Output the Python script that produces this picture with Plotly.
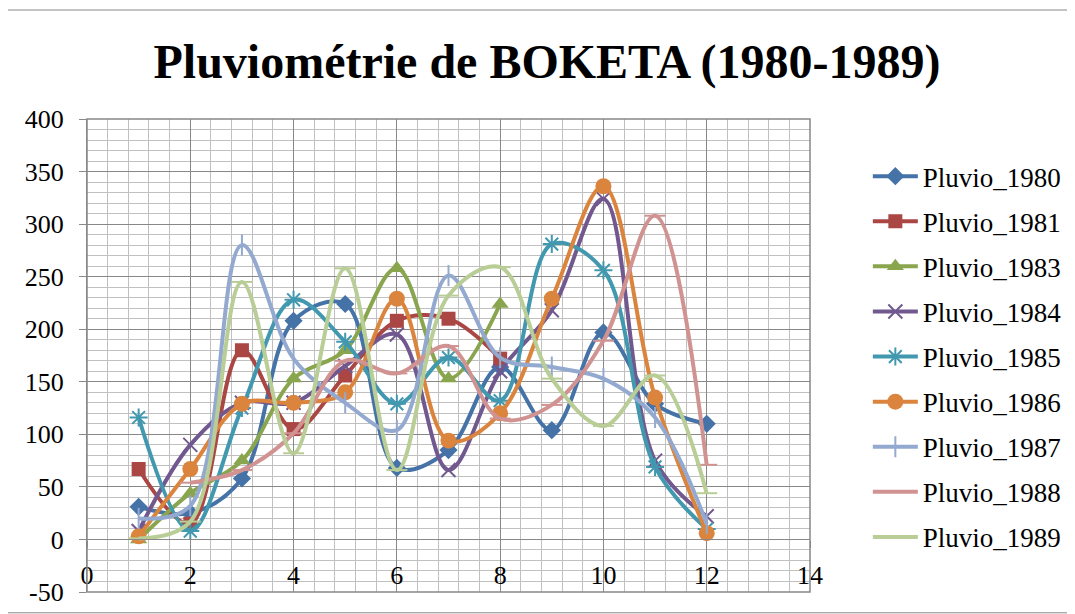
import plotly.graph_objects as go

# Mois (1..12) et pluviométrie
mois = [1, 2, 3, 4, 5, 6, 7, 8, 9, 10, 11, 12]

pluvio_1980 = [31, 25, 58, 208, 224, 68, 85, 164, 104, 197, 129, 110]
pluvio_1981 = [67, 15, 180, 105, 156, 208, 210, 172, None, None, None, None]
pluvio_1983 = [0, 44, 75, 153, 180, 258, 153, 224, None, None, None, None]
pluvio_1984 = [8, 90, 130, 130, 165, 195, 66, 160, 218, 324, 75, 22]
pluvio_1985 = [116, 8, 125, 228, 188, 129, 173, 132, 281, 256, 69, 10]
pluvio_1986 = [3, 67, 129, 130, 140, 229, 94, 120, 229, 336, 135, 6]
pluvio_1987 = [20, 32, 280, 172, 130, 104, 251, 173, 164, 153, 116, 15]
pluvio_1988 = [None, 54, 66, 101, 170, 158, 184, 115, 128, 189, 308, 71]
pluvio_1989 = [1, 17, 245, 82, 258, 66, 232, 259, 153, 108, 156, 44]

y_ticks = [-50, 0, 50, 100, 150, 200, 250, 300, 350, 400]

SERIES = [
    ("Pluvio_1980", pluvio_1980, "#4572A7", "diamond", 14),
    ("Pluvio_1981", pluvio_1981, "#AA4643", "square", 14),
    ("Pluvio_1983", pluvio_1983, "#89A54E", "triangle-up", 15),
    ("Pluvio_1984", pluvio_1984, "#71588F", "x-thin", 14),
    ("Pluvio_1985", pluvio_1985, "#4198AF", "asterisk", 15),
    ("Pluvio_1986", pluvio_1986, "#DB843D", "circle", 16),
    ("Pluvio_1987", pluvio_1987, "#93A9CF", "line-ns", 15),
    ("Pluvio_1988", pluvio_1988, "#D19392", "line-ew", 15),
    ("Pluvio_1989", pluvio_1989, "#B9CD96", "line-ew", 15),
]

FONT = "Liberation Serif"
MAJOR = "#888888"
MINOR = "#c0c0c0"

fig = go.Figure()
for name, vals, color, symbol, size in SERIES:
    open_sym = symbol in ("x-thin", "asterisk", "line-ns", "line-ew")
    fig.add_trace(go.Scatter(
        x=mois, y=vals,
        name=name,
        legendgroup=name,
        mode="lines+markers",
        line=dict(color=color, width=4, shape="spline", smoothing=1.0),
        marker=dict(
            symbol=symbol, size=size, color=color,
            line=dict(color=color, width=2 if open_sym else 0),
        ),
    ))

# la page HTML ajoute 8 px de marge autour de la figure
fig.update_layout(
    width=1075, height=614,
    paper_bgcolor="white",
    plot_bgcolor="white",
    font=dict(family=FONT, size=26, color="black"),
    margin=dict(l=79, r=273, t=111, b=30, autoexpand=False),
    title=dict(
        text="<b>Pluviométrie de BOKETA (1980-1989)</b>",
        x=0.5014, xanchor="center", y=0.914, yanchor="middle",
        font=dict(family=FONT, size=48, color="black"),
    ),
    legend=dict(
        x=1.08, xanchor="left", y=0.93, yanchor="top",
        font=dict(family=FONT, size=27),
        tracegroupgap=7,
        itemwidth=45,
        bgcolor="rgba(0,0,0,0)",
    ),
    showlegend=True,
)

fig.update_xaxes(
    range=[0, 14], dtick=2, tick0=0,
    showgrid=True, gridcolor=MAJOR, gridwidth=1.2,
    minor=dict(dtick=0.4, showgrid=True, gridcolor=MINOR, gridwidth=1.2),
    zeroline=False, automargin=False,
    showline=True, linecolor=MAJOR, linewidth=1.2,
    anchor="free", position=50 / 450,
    ticks="outside", ticklen=7, tickcolor=MAJOR,
    ticklabelstandoff=5,
    tickfont=dict(family=FONT, size=26),
)
fig.update_yaxes(
    range=[-50, 400],
    tickvals=y_ticks, ticktext=[str(v) for v in y_ticks],
    showgrid=True, gridcolor=MAJOR, gridwidth=1.2,
    minor=dict(dtick=10, showgrid=True, gridcolor=MINOR, gridwidth=1.2),
    zeroline=False, automargin=False,
    showline=True, linecolor=MAJOR, linewidth=1.2,
    ticks="outside", ticklen=7, tickcolor=MAJOR,
    ticklabelstandoff=10,
    tickfont=dict(family=FONT, size=26),
)

# cadre de la zone de tracé et de la figure
fig.add_shape(type="rect", xref="x domain", yref="y domain",
              x0=0, x1=1, y0=0, y1=1, line=dict(color=MAJOR, width=1.5))
fig.add_shape(type="rect", xref="paper", yref="paper",
              x0=-0.119, x1=1.3638, y0=-0.044, y1=1.2304,
              line=dict(color=MAJOR, width=1))

fig.write_html("out.html")
